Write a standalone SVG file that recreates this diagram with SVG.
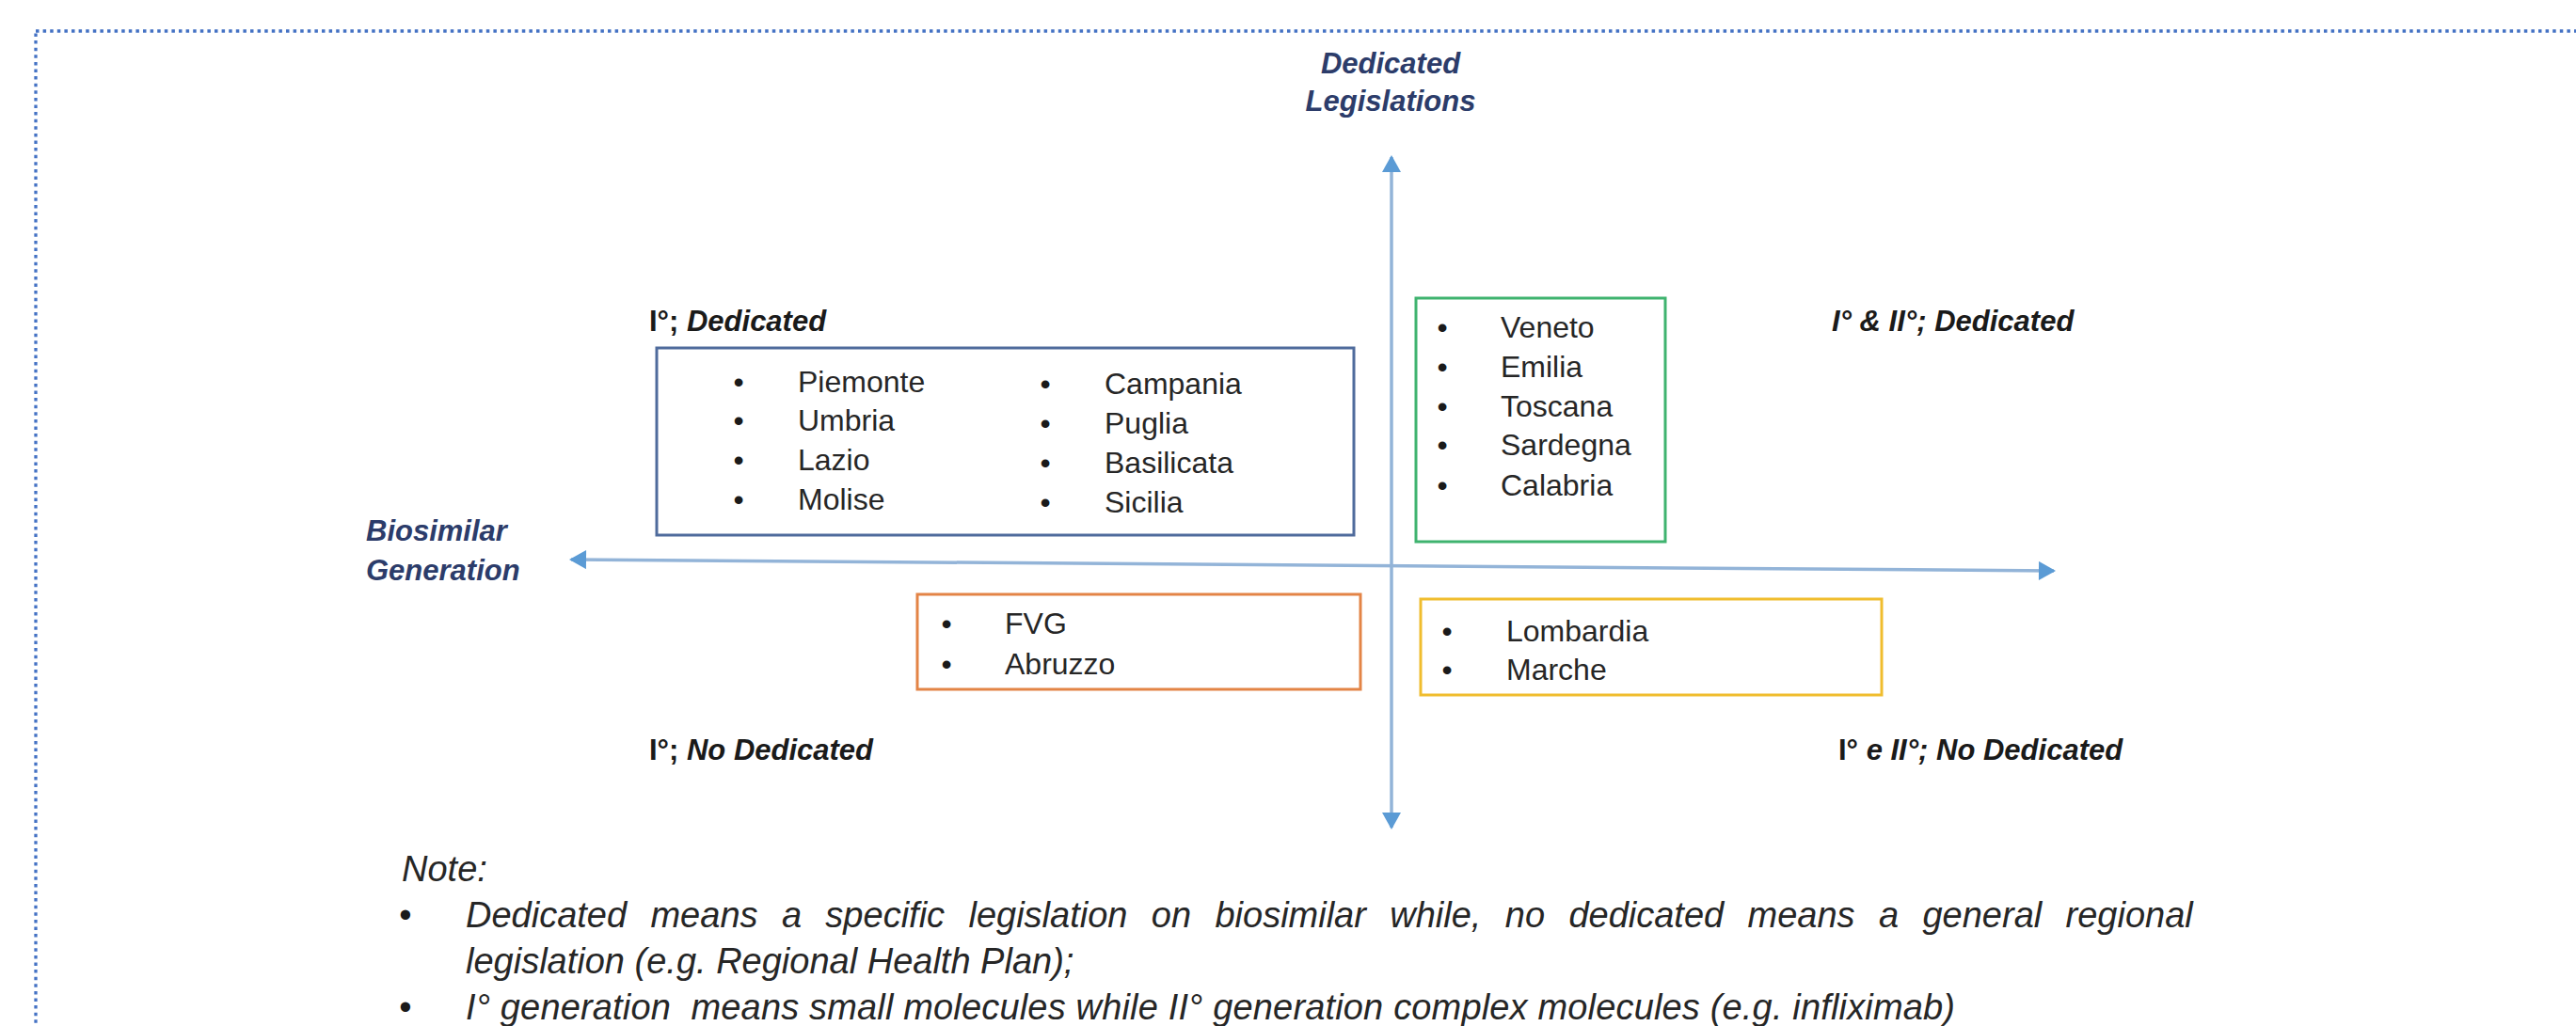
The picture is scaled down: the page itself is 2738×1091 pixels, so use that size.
<svg xmlns="http://www.w3.org/2000/svg" width="2738" height="1091" viewBox="0 0 2738 1091">
<defs>
<style>
.axis-label{font-family:"Liberation Sans",Arial,sans-serif;font-size:31px;font-weight:bold;font-style:italic;fill:#2c3c6a;}
.quad{font-family:"Liberation Sans",Arial,sans-serif;font-size:31px;font-weight:bold;font-style:italic;fill:#1a1a1a;}
.up{font-style:normal;}
.item{font-family:"Liberation Sans",Arial,sans-serif;font-size:32px;fill:#262626;}
.bul{font-family:"Liberation Sans",Arial,sans-serif;font-size:32px;fill:#1a1a1a;text-anchor:middle;}
.note{font-family:"Liberation Sans",Arial,sans-serif;font-size:38px;font-style:italic;fill:#262626;}
.nbul{font-family:"Liberation Sans",Arial,sans-serif;font-size:38px;fill:#1a1a1a;text-anchor:middle;}
.box{fill:#ffffff;stroke-width:3;}
.axis{stroke:#93b4d8;stroke-width:3.5;fill:none;}
</style>
<marker id="ah" markerUnits="userSpaceOnUse" markerWidth="20" markerHeight="20" viewBox="0 0 18 20" refX="16" refY="10" orient="auto-start-reverse">
<path d="M0,0 L18,10 L0,20 Z" fill="#5b9bd5"/>
</marker>
</defs>
<rect width="2738" height="1091" fill="#ffffff"/>
<rect x="38" y="33" width="3000" height="2000" fill="none" stroke="#4472c4" stroke-width="3.3" stroke-dasharray="3.5 4.1"/>

<g id="connectors">
<line class="axis" x1="1479" y1="880" x2="1479" y2="167" marker-start="url(#ah)" marker-end="url(#ah)"/>
<line class="axis" x1="607" y1="595" x2="2183" y2="607" marker-start="url(#ah)" marker-end="url(#ah)"/>
</g>

<g id="axis-y-label">
<text class="axis-label" x="1478" y="78" text-anchor="middle">Dedicated</text>
<text class="axis-label" x="1478" y="118" text-anchor="middle">Legislations</text>
</g>
<g id="axis-x-label">
<text class="axis-label" x="389" y="575">Biosimilar</text>
<text class="axis-label" x="389" y="617">Generation</text>
</g>

<g id="quadrant-labels">
<text class="quad" x="690" y="352"><tspan class="up">I°;</tspan> Dedicated</text>
<text class="quad" x="1947" y="352">I° &amp; II°; Dedicated</text>
<text class="quad" x="690" y="808"><tspan class="up">I°;</tspan> No Dedicated</text>
<text class="quad" x="1954" y="808"><tspan class="up">I°</tspan> e II°; No Dedicated</text>
</g>

<g id="box-dedicated-I">
<rect class="box" x="698" y="370" width="741" height="199" stroke="#4f6b9c"/>
<text class="bul" x="785" y="417">•</text><text class="item" x="848" y="417">Piemonte</text>
<text class="bul" x="785" y="458">•</text><text class="item" x="848" y="458">Umbria</text>
<text class="bul" x="785" y="500">•</text><text class="item" x="848" y="500">Lazio</text>
<text class="bul" x="785" y="542">•</text><text class="item" x="848" y="542">Molise</text>
<text class="bul" x="1111" y="419">•</text><text class="item" x="1174" y="419">Campania</text>
<text class="bul" x="1111" y="461">•</text><text class="item" x="1174" y="461">Puglia</text>
<text class="bul" x="1111" y="503">•</text><text class="item" x="1174" y="503">Basilicata</text>
<text class="bul" x="1111" y="545">•</text><text class="item" x="1174" y="545">Sicilia</text>
</g>

<g id="box-dedicated-I-II">
<rect class="box" x="1505" y="317" width="265" height="259" stroke="#3fb36f"/>
<text class="bul" x="1533" y="359">•</text><text class="item" x="1595" y="359">Veneto</text>
<text class="bul" x="1533" y="401">•</text><text class="item" x="1595" y="401">Emilia</text>
<text class="bul" x="1533" y="443">•</text><text class="item" x="1595" y="443">Toscana</text>
<text class="bul" x="1533" y="484">•</text><text class="item" x="1595" y="484">Sardegna</text>
<text class="bul" x="1533" y="527">•</text><text class="item" x="1595" y="527">Calabria</text>
</g>

<g id="box-nodedicated-I">
<rect class="box" x="975" y="632" width="471" height="101" stroke="#e38446"/>
<text class="bul" x="1006" y="674">•</text><text class="item" x="1068" y="674">FVG</text>
<text class="bul" x="1006" y="717">•</text><text class="item" x="1068" y="717">Abruzzo</text>
</g>

<g id="box-nodedicated-I-II">
<rect class="box" x="1510" y="637" width="490" height="102" stroke="#f0bd2e"/>
<text class="bul" x="1538" y="682">•</text><text class="item" x="1601" y="682">Lombardia</text>
<text class="bul" x="1538" y="723">•</text><text class="item" x="1601" y="723">Marche</text>
</g>

<g id="note">
<text class="note" x="427" y="937">Note:</text>
<text class="nbul" x="431" y="986">•</text>
<text class="note" x="495" y="986" word-spacing="14.8">Dedicated means a specific legislation on biosimilar while, no dedicated means a general regional</text>
<text class="note" x="495" y="1035">legislation (e.g. Regional Health Plan);</text>
<text class="nbul" x="431" y="1084">•</text>
<text class="note" x="495" y="1084" textLength="1583" lengthAdjust="spacing" xml:space="preserve" style="white-space:pre">I° generation  means small molecules while II° generation complex molecules (e.g. infliximab)</text>
</g>
</svg>
